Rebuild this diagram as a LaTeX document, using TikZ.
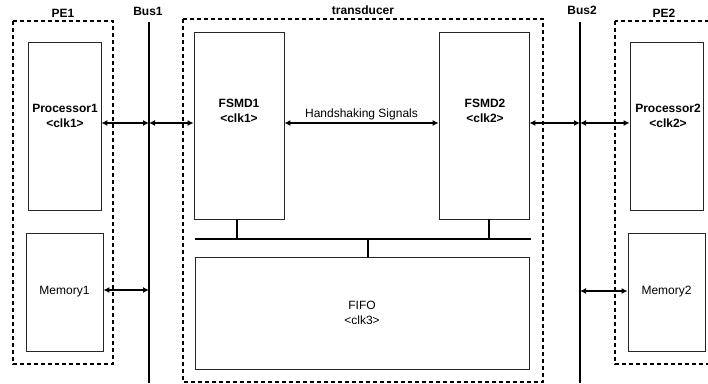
\documentclass[tikz,border=0pt]{standalone}
\usepackage{fontspec}
\setmainfont{Liberation Sans}
\usetikzlibrary{arrows.meta}

\begin{document}
\begin{tikzpicture}[x=1pt,y=-1pt,
    txt/.style={font=\fontsize{12}{15}\selectfont, align=center},
    title/.style={font=\fontsize{12}{15}\selectfont\bfseries, align=center},
    block/.style={draw=black!85, line width=0.8pt, inner sep=0pt},
    group/.style={draw, line width=1.6pt, dash pattern=on 4pt off 3pt},
    bus/.style={line width=1.8pt},
    link/.style={{Latex[length=6pt,width=6pt]}-{Latex[length=6pt,width=6pt]}, line width=2.2pt}]
        \useasboundingbox (0,0) rectangle (708,383);

        % PE1
        \draw[group] (13,21) rectangle (113,364);
        \node[title] (pe1) at (63,13) {PE1};
        \node[block, minimum width=73pt, minimum height=168pt] (proc1) at (64.5,126) {};
        \node[title] (proc1txt) at (65,116) {Processor1\\<clk1>};
        \node[block, txt, minimum width=77pt, minimum height=118pt] (mem1) at (64.5,292) {\raisebox{3pt}{Memory1}};

        % Bus1
        \coordinate (bus1top) at (149,22);
        \coordinate (bus1bot) at (149,383);
        \draw[bus] (bus1top) -- (bus1bot);
        \node[title] (bus1) at (148,11) {Bus1};

        % transducer
        \draw[group] (183,19) rectangle (543,382);
        \node[title] (trans) at (363,10) {transducer};
        \node[block, minimum width=90pt, minimum height=187pt] (fsmd1) at (239,125.5) {};
        \node[title] (fsmd1txt) at (239,111) {FSMD1\\<clk1>};
        \node[block, minimum width=90pt, minimum height=187pt] (fsmd2) at (484,125.5) {};
        \node[title] (fsmd2txt) at (485,111) {FSMD2\\<clk2>};
        \node[block, txt, minimum width=334pt, minimum height=112pt] (fifo) at (362,313) {FIFO\\<clk3>};

        % inner bus
        \coordinate (ibl) at (195,239);
        \coordinate (ibr) at (531,239);
        \coordinate (ib1) at (237,239);
        \coordinate (ib2) at (489,239);
        \coordinate (ib3) at (368,239);
        \draw[bus] (ibl) -- (ibr);
        \draw[bus] (fsmd1.south -| ib1) -- (ib1);
        \draw[bus] (fsmd2.south -| ib2) -- (ib2);
        \draw[bus] (ib3) -- (fifo.north -| ib3);

        % Bus2
        \coordinate (bus2top) at (580,22);
        \coordinate (bus2bot) at (580,383);
        \draw[bus] (bus2top) -- (bus2bot);
        \node[title] (bus2) at (582,10) {Bus2};

        % PE2
        \draw[group] (615,21) rectangle (725,364);
        \node[title] (pe2) at (664,13) {PE2};
        \node[block, minimum width=73pt, minimum height=168pt] (proc2) at (666.5,126) {};
        \node[title] (proc2txt) at (668,116) {Processor2\\<clk2>};
        \node[block, txt, minimum width=77pt, minimum height=118pt] (mem2) at (666.5,292) {\raisebox{2pt}{Memory2}};

        % links
        \coordinate (b1p) at (149,123);
        \coordinate (b1m) at (149,290);
        \coordinate (b2p) at (580,123);
        \coordinate (b2m) at (580,291);
        \draw[link] (proc1.east |- b1p) -- (b1p);
        \draw[link] (b1p) -- (fsmd1.west |- b1p);
        \draw[link] (mem1.east |- b1m) -- (b1m);
        \draw[link] (fsmd1.east |- b1p) -- node[txt, above, inner sep=2pt] (hs) {Handshaking Signals} (fsmd2.west |- b1p);
        \draw[link] (fsmd2.east |- b2p) -- (b2p);
        \draw[link] (b2p) -- (proc2.west |- b2p);
        \draw[link] (b2m) -- (mem2.west |- b2m);
      \end{tikzpicture}
\end{document}
